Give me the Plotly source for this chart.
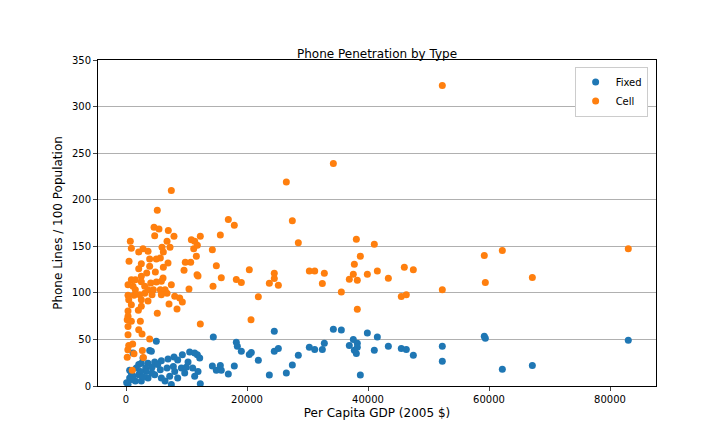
import plotly.graph_objects as go

# Fixed lines: (GDP, lines per 100)
fixed_x = [14430, 14270, 14930, 15590, 15750, 16910, 17900, 18230, 18400, 19060, 20380, 20710,
           21870, 23690, 24510, 24510, 25180, 26500, 27490, 28480, 30300, 31190, 32450, 32780,
           34270, 35590, 36910, 37570, 38230, 38230, 37740, 38070, 38730, 39890, 41540, 41040,
           43360, 45500, 46330, 47490, 52280, 52280, 59220, 59390, 62200, 67160, 83020,
           5010, 3910, 4190, 1160, 2810, 10520, 9310, 11790, 12180, 11350, 7930, 6940, 5840,
           4740, 3640, 2530, 2100, 1700, 3250, 4300, 5670, 6780, 7820, 9150, 9960, 11020, 11900,
           11350, 7220, 8540, 4740, 5840, 3360, 880, 600, 100, 330, 1540, 2530, 3640, 2100,
           1160, 2370, 7490, 12280, 6450, 9700, 8050, 10250, 8540, 880, 600, 2810, 4300, 5240]
fixed_y = [52.6, 21.5, 17, 22, 17, 12.9, 21.5, 46.9, 42.6, 37.2, 33.9, 36,
           27.6, 11.8, 58.8, 37.2, 40.3, 14, 22.5, 32.9, 41.5, 39.3, 39.3, 45.8,
           60.9, 60, 43.6, 50, 45.8, 41.5, 38.3, 35, 11.8, 56.8, 52.6, 38.3,
           42.6, 40.3, 39.3, 32.9, 42.6, 26.6, 53.3, 51.2, 17.9, 22.1, 49,
           48, 38, 37.2, 35.4, 30, 36.5, 33.6, 33.6, 30, 35.4, 31.1, 29, 27.2,
           25.8, 24.5, 24.5, 23, 19.3, 19.3, 20, 17.5, 19.3, 21, 19.3, 20, 19.3, 15.7,
           10.4, 10.4, 8.6, 12, 8.6, 15.7, 14, 8.6, 3.6, 2, 5.4, 5.4, 8.6, 12,
           10.4, 15.7, 1.5, 2.5, 5.4, 14, 15.7, 25.8, 28, 7, 17, 10, 14, 23]

# Cell phones
cell_x = [14270, 14930, 15750, 14380, 16910, 17900, 15590, 18230, 19060, 20380, 21870, 20660,
          26500, 27490, 28480, 24510, 24510, 23690, 25180, 30300, 31190, 32780, 32450, 34270,
          35590, 36910, 37570, 38230, 37740, 38730, 38070, 38230, 39890, 41540, 41040, 43360,
          46000, 47490, 45500, 46330, 52280, 52280, 59220, 59390, 62200, 67160, 83020,
          7490, 5170, 4630, 5450, 6990, 7930, 4740, 6780, 710, 7270, 5950, 880, 2810, 3640,
          2100, 6170, 5670, 3910, 5010, 500, 10800, 11350, 12280, 11190, 11790, 11630, 9800,
          10690, 6940, 2530, 3910, 6170, 2100, 9590, 4850, 3420, 6120, 11740, 11900, 880, 1540,
          2530, 2530, 4080, 5010, 5840, 7490, 10410, 330, 1160, 1540, 3090, 3640, 4520, 5670,
          6450, 330, 1320, 2260, 3090, 4300, 5840, 6780, 8050, 8870, 9310, 7110, 8430, 5170,
          450, 2530, 3640, 880, 2530, 2040, 330, 330, 200, 880, 2370, 330, 2100, 2650, 330,
          3910, 450, 1100, 300, 2700, 1320, 200, 2870, 1040, 12280]
cell_y = [146.3, 129, 116.1, 107, 178.8, 172.7, 162, 114.3, 111, 124.7, 95.7, 71,
          218.9, 177.3, 153.7, 121, 115.3, 110.3, 108.2, 123.5, 123.5, 121, 110, 239,
          101, 114.6, 120, 113.6, 130.6, 139.2, 157.5, 82.3, 120, 123.5, 152.2, 115.7,
          127.5, 124.7, 96, 98, 322.7, 103.4, 140, 111, 145.5, 116.6, 147.4,
          210, 188.6, 170.4, 168.5, 167, 160.7, 161.4, 155.3, 155.3, 149, 149, 148, 147.4, 144.6,
          143.9, 143.9, 137.4, 136.4, 136.4, 133.9, 157, 155.3, 160.7, 147.4, 151, 139.2, 132.8,
          132.8, 132, 131.3, 128.5, 127.4, 126, 124.2, 122.4, 121.3, 116, 119.5, 118, 114.1, 114.1,
          117.8, 112, 110.6, 111.7, 112.4, 108.8, 104.1, 108.8, 107, 103.4, 107, 103.4, 103.4, 103.4,
          103.4, 97.4, 97.4, 98, 99.5, 98, 98, 99.5, 96.3, 94.5, 90.2, 88, 82.7, 78,
          92.7, 92.7, 91.3, 87.3, 85.5, 81.3, 80.5, 74.8, 71.2, 69.5, 69.5, 64, 60.4, 55.8, 55,
          50.5, 43.4, 45, 39, 38, 34.6, 31, 30.5, 16.9, 66.6]

fig = go.Figure()
fig.add_trace(go.Scatter(x=fixed_x, y=fixed_y, mode="markers", name="Fixed",
                         marker=dict(color="#1f77b4", size=7)))
fig.add_trace(go.Scatter(x=cell_x, y=cell_y, mode="markers", name="Cell",
                         marker=dict(color="#ff7f0e", size=7)))

axis_common = dict(showline=True, linecolor="black", mirror=True, ticks="outside",
                   ticklen=4, zeroline=False, automargin=False, tickfont=dict(size=10))
fig.update_layout(
    width=720, height=432, plot_bgcolor="white", paper_bgcolor="white",
    font=dict(family="DejaVu Sans", color="black", size=10),
    margin=dict(l=90, r=72, t=52, b=54, autoexpand=False),
    title=dict(text="Phone Penetration by Type", x=0.5, xanchor="center",
               xref="paper", y=0.885, yanchor="bottom", font=dict(size=12)),
    xaxis=dict(range=[-4630, 87600], tickvals=[0, 20000, 40000, 60000, 80000],
               tickformat="d", showgrid=False,
               title=dict(text="Per Capita GDP (2005 $)", standoff=4), **axis_common),
    yaxis=dict(range=[0, 350], dtick=50, showgrid=True, gridcolor="#b0b0b0",
               title=dict(text="Phone Lines / 100 Population", standoff=6), **axis_common),
    legend=dict(x=0.985, y=0.98, xanchor="right", yanchor="top", bordercolor="#cccccc",
                borderwidth=1, font=dict(size=10)),
)
fig.write_html("out.html")
